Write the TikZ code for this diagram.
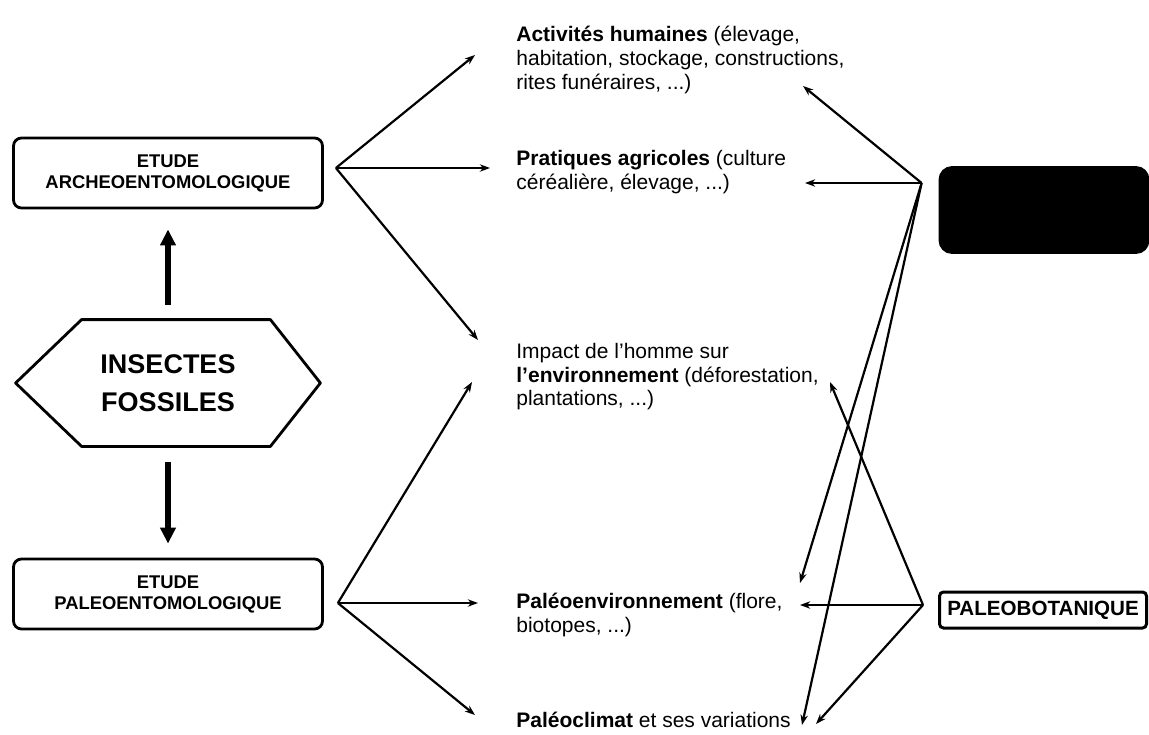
\documentclass[tikz,border=0pt]{standalone}
\usepackage{fontspec}
\setmainfont{Liberation Sans}
\usetikzlibrary{arrows.meta,positioning,calc}

\begin{document}
\begin{tikzpicture}[x=0.5pt,y=-0.5pt,
 etude/.style={draw,line width=1.4pt,rounded corners=4pt,minimum width=154.5pt,minimum height=35pt,align=center,inner sep=1pt,font=\fontsize{9.2}{10.5}\selectfont\bfseries},
 txt/.style={anchor=north west,inner sep=0pt,align=left,font=\fontsize{10.5}{11.8}\selectfont},
 arr/.style={-{Stealth[length=1.8mm,width=1.3mm]},line width=1.1pt},
 fat/.style={-{Triangle[length=8pt,width=7.5pt]},line width=3pt}]
\useasboundingbox (0,0) rectangle (1149,734);
% left column
\node[etude] (arch) at (168,173) {ETUDE\\ARCHEOENTOMOLOGIQUE};
\node[etude] (paleo) at (168,594) {ETUDE\\PALEOENTOMOLOGIQUE};
\node[minimum width=152pt,minimum height=63pt,align=center,font=\fontsize{13.5}{19}\selectfont\bfseries] (ins) at (168,383) {INSECTES\\FOSSILES};
\draw[line width=1.4pt,line join=round] (ins.west) -- ([xshift=33pt]ins.north west) -- ([xshift=-25pt]ins.north east) -- (ins.east)
  -- ([xshift=-25pt]ins.south east) -- ([xshift=33pt]ins.south west) -- cycle;
\draw[fat] ([yshift=7.5pt]ins.north) -- ([yshift=-10pt]arch.south);
\draw[fat] ([yshift=-8pt]ins.south) -- ([yshift=7pt]paleo.north);
% middle texts
\node[txt] (act) at (516,26) {\textbf{Activités humaines} (élevage,\\habitation, stockage, constructions,\\rites funéraires, ...)};
\node[txt] (pra) at (516,150) {\textbf{Pratiques agricoles} (culture\\céréalière, élevage, ...)};
\node[txt] (imp) at (516,343) {Impact de l'homme sur\\\textbf{l'environnement} (déforestation,\\plantations, ...)};
\node[txt] (penv) at (516,593) {\textbf{Paléoenvironnement} (flore,\\biotopes, ...)};
\node[txt] (pclim) at (516,712) {\textbf{Paléoclimat} et ses variations};
% right column
\node[fill=black,draw,line width=1.4pt,rounded corners=6pt,minimum width=104pt,minimum height=42.5pt] (arcg) at (1044,210) {};
\node[draw,line width=1.5pt,rounded corners=2pt,minimum width=103.5pt,minimum height=18pt,inner sep=1pt,font=\fontsize{10.3}{11}\selectfont\bfseries] (bot) at (1043,610) {PALEOBOTANIQUE};
% hubs and ends
\coordinate (ha) at ([shift={(6pt,2.5pt)}]arch.east);
\coordinate (hp) at ([shift={(7pt,-4.5pt)}]paleo.east);
\coordinate (hk) at ([shift={(-8.5pt,13.5pt)}]arcg.west);
\coordinate (hb) at ([shift={(-7.5pt,2.5pt)}]bot.west);
\coordinate (a1) at (475,55);  \coordinate (a2) at (490,168); \coordinate (a3) at (478,340);
\coordinate (p1) at (472,382); \coordinate (p2) at (478,603); \coordinate (p3) at (475,715);
\coordinate (k1) at (803,86);  \coordinate (k2) at (805,183); \coordinate (k3) at (800,583); \coordinate (k4) at (802,725);
\coordinate (b1) at (830,382); \coordinate (b2) at (800,605); \coordinate (b3) at (816,724);
% connectors
\foreach \e in {a1,a2,a3} \draw[arr] (ha) -- (\e);
\foreach \e in {p1,p2,p3} \draw[arr] (hp) -- (\e);
\foreach \e in {k1,k2,k3,k4} \draw[arr] (hk) -- (\e);
\foreach \e in {b1,b2,b3} \draw[arr] (hb) -- (\e);
\end{tikzpicture}
\end{document}
